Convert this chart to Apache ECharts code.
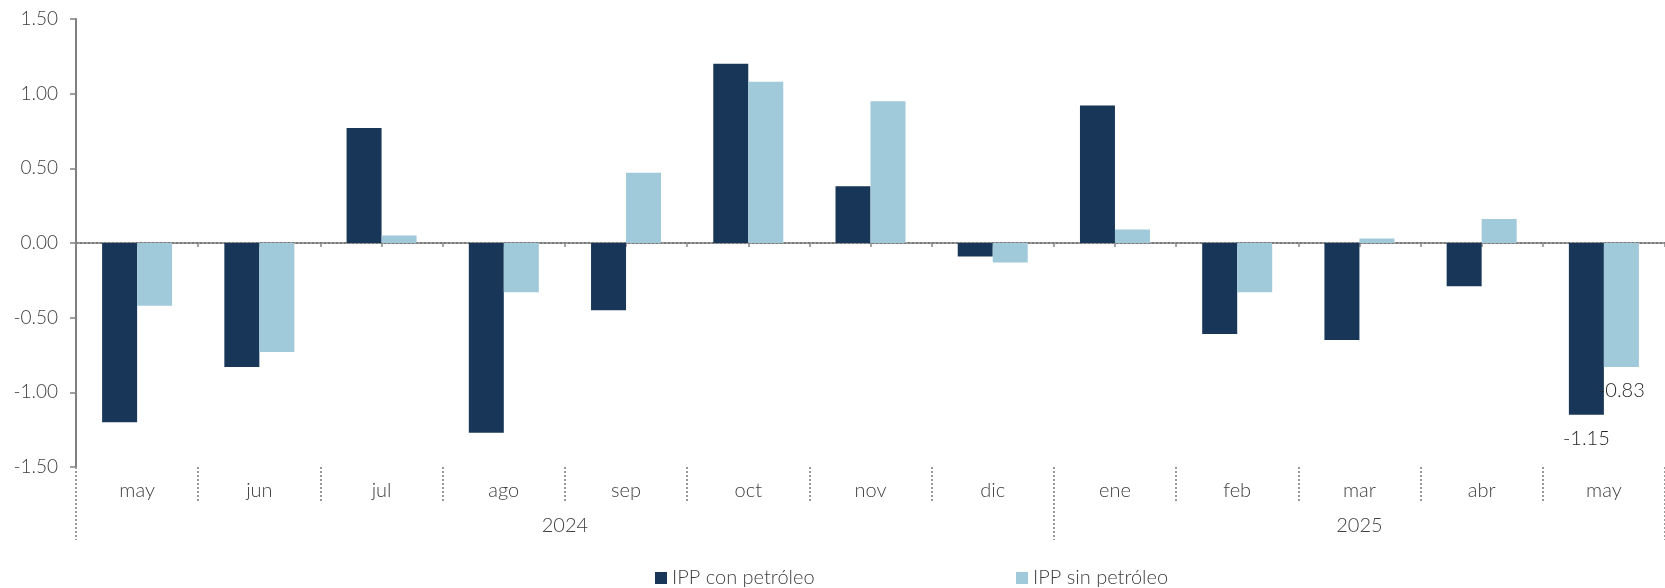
<!DOCTYPE html>
<html>
<head>
<meta charset="utf-8">
<script src="https://cdn.jsdelivr.net/npm/echarts@6/dist/echarts.min.js"></script>
<style>
  html, body { margin: 0; padding: 0; background: #fff; }
  #chart { width: 1665px; height: 588px; }
</style>
</head>
<body>
<div id="chart"></div>
<script>
const months = ['may', 'jun', 'jul', 'ago', 'sep', 'oct', 'nov', 'dic', 'ene', 'feb', 'mar', 'abr', 'may'];
const years = ['2024', '2025'];
const conPetroleo = [-1.20, -0.83, 0.77, -1.27, -0.45, 1.20, 0.38, -0.09, 0.92, -0.61, -0.65, -0.29, -1.15];
const sinPetroleo = [-0.42, -0.73, 0.05, -0.33, 0.47, 1.08, 0.95, -0.13, 0.09, -0.33, 0.03, 0.16, -0.83];

const FONT = 'Lato, "Noto Sans", sans-serif';
const TEXT = '#404040';
const DARK = '#173658';
const LIGHT = '#a0c9da';

// only the last month carries a value label
const withLastLabel = arr => arr.map((v, i) => i === arr.length - 1
  ? { value: v, label: { show: true, position: 'bottom', distance: 14, color: '#262626', fontSize: 20, fontFamily: FONT, fontWeight: 300, formatter: p => p.value.toFixed(2) } }
  : v);

const legendText = { color: TEXT, fontSize: 20, fontFamily: FONT, fontWeight: 300 };

const chart = echarts.init(document.getElementById('chart'));

chart.setOption({
  animation: false,
  grid: { left: 76, right: 0, top: 19, bottom: 121 },
  legend: [
    {
      data: ['IPP con petróleo'],
      left: 655, top: 568, padding: 0, icon: 'rect', itemWidth: 12, itemHeight: 12,
      textStyle: legendText
    },
    {
      data: ['IPP sin petróleo'],
      left: 1016, top: 568, padding: 0, icon: 'rect', itemWidth: 12, itemHeight: 12,
      textStyle: legendText
    }
  ],
  xAxis: [
    {
      // month labels and short separators
      type: 'category',
      data: months,
      position: 'bottom',
      axisLine: { show: false, onZero: false },
      axisTick: { show: true, length: 36, lineStyle: { color: '#999', type: 'dotted', width: 2 } },
      axisLabel: { color: TEXT, fontSize: 20, fontFamily: FONT, fontWeight: 300, margin: 14 }
    },
    {
      // dotted zero line with the tiny marks
      type: 'category',
      data: months.concat(months).map((m, i) => String(i)),
      axisLine: { show: true, onZero: true, lineStyle: { color: '#7a7a7a', type: 'dotted', width: 2 } },
      axisTick: { show: true, inside: true, length: 4, lineStyle: { color: '#888', width: 1.5 } },
      axisLabel: { show: false }
    },
    {
      // year labels and long separators
      type: 'value',
      min: 0,
      max: 13,
      position: 'bottom',
      axisLine: { show: false, onZero: false },
      splitLine: { show: false },
      axisTick: { show: true, length: 73, customValues: [0, 8, 13], lineStyle: { color: '#999', type: 'dotted', width: 2 } },
      axisLabel: {
        show: true, customValues: [4, 10.5], margin: 49,
        color: TEXT, fontSize: 20, fontFamily: FONT, fontWeight: 300,
        formatter: v => (v < 8 ? years[0] : years[1])
      }
    }
  ],
  yAxis: {
    type: 'value',
    min: -1.5,
    max: 1.5,
    interval: 0.5,
    axisLine: { show: true, lineStyle: { color: '#808080', width: 2 } },
    axisTick: { show: true, length: 6, lineStyle: { color: '#808080', width: 1.5 } },
    splitLine: { show: false },
    axisLabel: { color: TEXT, fontSize: 19, fontFamily: FONT, fontWeight: 300, margin: 18, formatter: v => v.toFixed(2) }
  },
  series: [
    {
      name: 'IPP con petróleo',
      type: 'bar',
      xAxisIndex: 0,
      barWidth: 35,
      barGap: '0%',
      itemStyle: { color: DARK },
      data: withLastLabel(conPetroleo)
    },
    {
      name: 'IPP sin petróleo',
      type: 'bar',
      xAxisIndex: 0,
      barWidth: 35,
      barGap: '0%',
      itemStyle: { color: LIGHT },
      data: withLastLabel(sinPetroleo)
    }
  ]
});
</script>
</body>
</html>
